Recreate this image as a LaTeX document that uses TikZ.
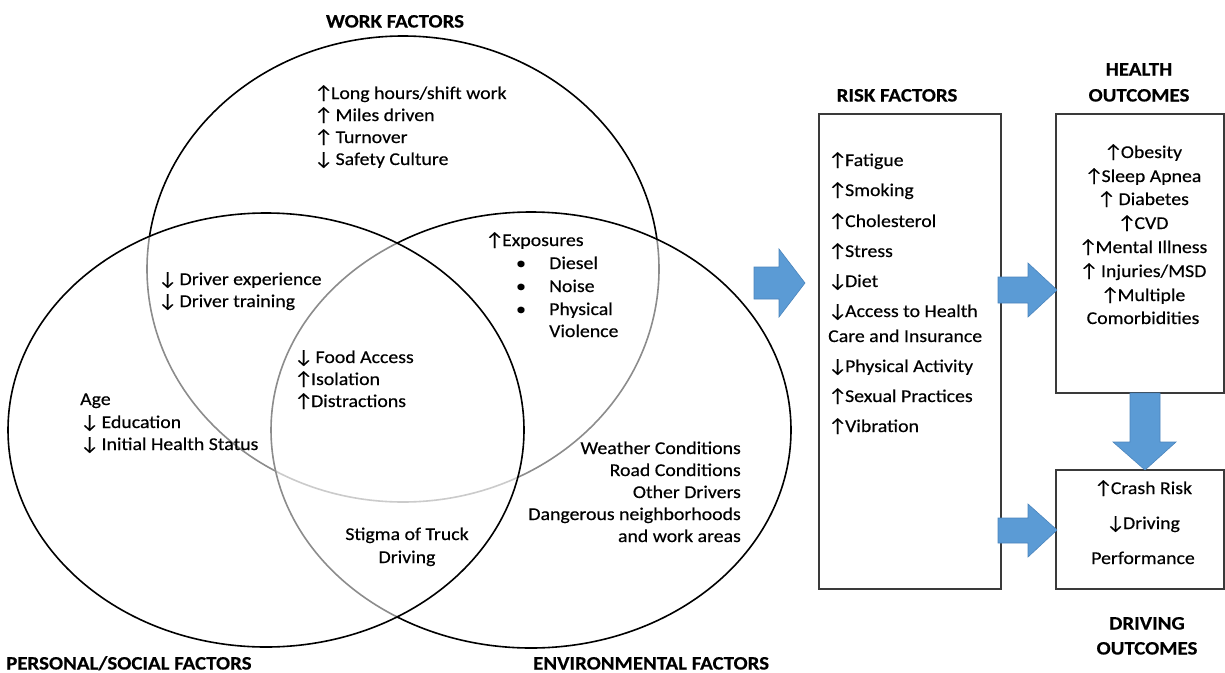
\documentclass[tikz,border=0pt]{standalone}
\usepackage{fontspec}
\setmainfont[FakeStretch=1.1,FakeBold=0.35]{Carlito}
\newcommand\UpA{{\fontsize{19}{22}\selectfont\char"2191}\kern-2pt}
\newcommand\DnA{{\fontsize{19}{22}\selectfont\char"2193}\kern-2pt}
\definecolor{arrowblue}{HTML}{5B9BD5}
\definecolor{arrowedge}{HTML}{4A84BC}
\definecolor{boxline}{HTML}{3A3A3A}
\tikzset{
 txt/.style={font=\fontsize{18}{22}\selectfont, inner sep=0pt, text=black},
 ttl/.style={font=\bfseries\fontsize{19}{23}\selectfont, inner sep=0pt, text=black},
 box/.style={draw=boxline, line width=1.3pt, inner sep=0pt},
 ring/.style={draw=black, line width=1.6pt},
 veil/.style={fill=white, fill opacity=0.55},
 barrow/.style={fill=arrowblue, draw=arrowedge, line width=0.6pt},
}
\begin{document}
\begin{tikzpicture}[x=1pt,y=-1pt]
\useasboundingbox (0,0) rectangle (1225,672);
% Venn circles
\draw[ring] (403,269) ellipse [x radius=256pt, y radius=233pt];
\draw[ring, veil] (531,430) ellipse [x radius=260pt, y radius=218pt];
\draw[ring, veil] (266,430) ellipse [x radius=258pt, y radius=217pt];

% boxes
\node[box, minimum width=182pt, minimum height=475pt] (risk) at (910,351.5) {};
\node[box, minimum width=168pt, minimum height=279pt] (health) at (1140,253.5) {};
\node[box, minimum width=168pt, minimum height=119pt] (drive) at (1140,529.5) {};

% block arrows
\draw[barrow] (754,267) -- (779,267) -- (779,249) -- (805,283) -- (779,317) -- (779,299) -- (754,299) -- cycle;
\draw[barrow] (998,277) -- (1028,277) -- (1028,263) -- (1057,290) -- (1028,317) -- (1028,303) -- (998,303) -- cycle;
\draw[barrow] (998,518) -- (1028,518) -- (1028,504) -- (1057,530) -- (1028,557) -- (1028,543) -- (998,543) -- cycle;
\draw[barrow] (1130,393) -- (1130,442) -- (1113,442) -- (1145,470) -- (1176,442) -- (1160,442) -- (1160,393) -- cycle;

% titles
\node[ttl, anchor=base] (tw) at (395,27.5) {WORK FACTORS};
\node[ttl, anchor=base west] (tp) at (6,669.5) {PERSONAL/SOCIAL FACTORS};
\node[ttl, anchor=base west] (te) at (533,669.5) {ENVIRONMENTAL FACTORS};
\node[ttl, anchor=base] (tr) at (897,101.5) {RISK FACTORS};
\node[ttl, anchor=base] (th1) at (1139,75.5) {HEALTH};
\node[ttl, anchor=base] (th2) at (1139,101.5) {OUTCOMES};
\node[ttl, anchor=base] (td1) at (1147,629.5) {DRIVING};
\node[ttl, anchor=base] (td2) at (1147,654.5) {OUTCOMES};

% work factors
\node[txt, anchor=base west] (w1) at (314,99) {\UpA Long hours/shift work};
\node[txt, anchor=base west] (w2) at (314,121) {\UpA\ Miles driven};
\node[txt, anchor=base west] (w3) at (314,143) {\UpA\ Turnover};
\node[txt, anchor=base west] (w4) at (314,165) {\DnA\ Safety Culture};

% work & personal
\node[txt, anchor=base west] (d1) at (158,285) {\DnA\ Driver experience};
\node[txt, anchor=base west] (d2) at (158,307) {\DnA\ Driver training};

% work & environment
\node[txt, anchor=base west] (x0) at (485,246) {\UpA Exposures};
\node[txt, anchor=base] (b1) at (521,269) {\textbullet};
\node[txt, anchor=base] (b2) at (521,292) {\textbullet};
\node[txt, anchor=base] (b3) at (521,315) {\textbullet};
\node[txt, anchor=base west] (x1) at (549,269) {Diesel};
\node[txt, anchor=base west] (x2) at (549,292) {Noise};
\node[txt, anchor=base west] (x3) at (549,315) {Physical};
\node[txt, anchor=base west] (x4) at (549,337) {Violence};

% centre
\node[txt, anchor=base west] (c1) at (294,363) {\DnA\ Food Access};
\node[txt, anchor=base west] (c2) at (294,385) {\UpA Isolation};
\node[txt, anchor=base west] (c3) at (294,407) {\UpA Distractions};

% personal
\node[txt, anchor=base west] (p1) at (80,405) {Age};
\node[txt, anchor=base west] (p2) at (80,428) {\DnA\ Education};
\node[txt, anchor=base west] (p3) at (80,450) {\DnA\ Initial Health Status};

% environment
\node[txt, anchor=base east] (e1) at (741,454) {Weather Conditions};
\node[txt, anchor=base east] (e2) at (741,476) {Road Conditions};
\node[txt, anchor=base east] (e3) at (741,498) {Other Drivers};
\node[txt, anchor=base east] (e4) at (741,520) {Dangerous neighborhoods};
\node[txt, anchor=base east] (e5) at (741,542) {and work areas};

% personal & environment
\node[txt, anchor=base] (s1) at (407,540) {Stigma of Truck};
\node[txt, anchor=base] (s2) at (407,563) {Driving};

% risk factors
\node[txt, anchor=base west] (r1) at (828,166) {\UpA Fatigue};
\node[txt, anchor=base west] (r2) at (828,196) {\UpA Smoking};
\node[txt, anchor=base west] (r3) at (828,227) {\UpA Cholesterol};
\node[txt, anchor=base west] (r4) at (828,257) {\UpA Stress};
\node[txt, anchor=base west] (r5) at (828,287) {\DnA Diet};
\node[txt, anchor=base west] (r6) at (828,317) {\DnA Access to Health};
\node[txt, anchor=base west] (r7) at (828,342) {Care and Insurance};
\node[txt, anchor=base west] (r8) at (828,372) {\DnA Physical Activity};
\node[txt, anchor=base west] (r9) at (828,402) {\UpA Sexual Practices};
\node[txt, anchor=base west] (r10) at (828,432) {\UpA Vibration};

% health outcomes
\node[txt, anchor=base] (h1) at (1143,158) {\UpA Obesity};
\node[txt, anchor=base] (h2) at (1143,182) {\UpA Sleep Apnea};
\node[txt, anchor=base] (h3) at (1143,205) {\UpA\ Diabetes};
\node[txt, anchor=base] (h4) at (1143,229) {\UpA CVD};
\node[txt, anchor=base] (h5) at (1143,253) {\UpA Mental Illness};
\node[txt, anchor=base] (h6) at (1143,277) {\UpA\ Injuries/MSD};
\node[txt, anchor=base] (h7) at (1143,301) {\UpA Multiple};
\node[txt, anchor=base] (h8) at (1143,324) {Comorbidities};

% driving outcomes
\node[txt, anchor=base] (o1) at (1143,494) {\UpA Crash Risk};
\node[txt, anchor=base] (o2) at (1143,529) {\DnA Driving};
\node[txt, anchor=base] (o3) at (1143,564) {Performance};
\end{tikzpicture}
\end{document}
